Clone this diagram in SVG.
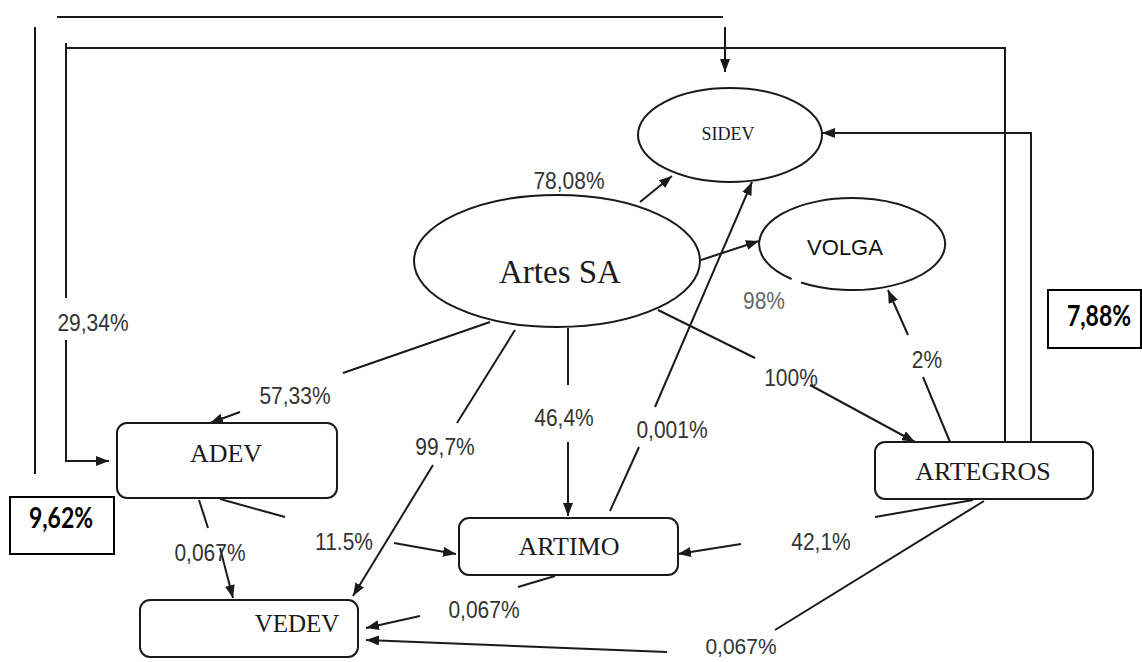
<svg xmlns="http://www.w3.org/2000/svg" width="1142" height="662" viewBox="0 0 1142 662">
<defs>
<style>
.ln{fill:none;stroke:#1a1a1a;stroke-width:2}
.ar{fill:none;stroke:#1a1a1a;stroke-width:2;marker-end:url(#ah)}
.nd{fill:#fff;stroke:#1a1a1a;stroke-width:2}
.ser{font-family:"Liberation Serif","Times New Roman",serif;fill:#1a1a1a;text-anchor:middle}
.lbl{font-family:"Liberation Sans",Arial,sans-serif;font-size:21px;fill:#333;text-anchor:middle}
.bx{font-family:Lato,"Liberation Sans",sans-serif;font-weight:bold;font-size:23px;fill:#000;text-anchor:middle}
</style>
<marker id="ah" viewBox="0 0 13 10" refX="13" refY="5" markerWidth="13" markerHeight="10" markerUnits="userSpaceOnUse" orient="auto">
<path d="M0,0 L13,5 L0,10 z" fill="#1a1a1a"/>
</marker>
</defs>
<rect width="1142" height="662" fill="#fff"/>

<g id="connectors">
<path class="ln" d="M57,17 H723"/>
<path class="ar" d="M725,27 V72"/>
<path class="ln" d="M35,27 V474"/>
<path class="ln" d="M65,48 H1005 V442"/>
<path class="ln" d="M66,43 V298"/>
<path class="ar" d="M66,340 V461 H109"/>
<path class="ar" d="M1031,442 V133 H822"/>
<path class="ar" d="M640,202 L672,176"/>
<path class="ar" d="M701,260 L759,241"/>
<path class="ln" d="M658,310 L755,358"/>
<path class="ar" d="M810,385 L915,442"/>
<path class="ln" d="M568,328 V385"/>
<path class="ar" d="M568,442 V516"/>
<path class="ln" d="M515,330 L457,423"/>
<path class="ar" d="M433,465 L353,596"/>
<path class="ln" d="M490,322 L343,373"/>
<path class="ar" d="M240,412 L210,423"/>
<path class="ln" d="M610,511 L639,447"/>
<path class="ar" d="M655,407 L752,182"/>
<path class="ln" d="M950,442 L923,377"/>
<path class="ar" d="M908,335 L888,290"/>
<path class="ln" d="M199,500 L208,528"/>
<path class="ar" d="M220,548 L233,598"/>
<path class="ln" d="M220,499 L285,517"/>
<path class="ar" d="M394,543 L456,554"/>
<path class="ln" d="M973,500 L875,517"/>
<path class="ar" d="M741,544 L678,554"/>
<path class="ln" d="M555,576 L518,587"/>
<path class="ar" d="M420,616 L366,628"/>
<path class="ln" d="M984,501 L775,630"/>
<path class="ar" d="M667,652 L366,640"/>
</g>

<g id="labels">
<text class="lbl" transform="translate(569,189) scale(1,1.12)">78,08%</text>
<text class="lbl" transform="translate(764,309) scale(1,1.12)" style="fill:#666">98%</text>
<text class="lbl" transform="translate(93,331) scale(1,1.12)">29,34%</text>
<text class="lbl" transform="translate(295,404) scale(1,1.12)">57,33%</text>
<text class="lbl" transform="translate(791,386) scale(1,1.12)">100%</text>
<text class="lbl" transform="translate(927,368) scale(1,1.12)">2%</text>
<text class="lbl" transform="translate(564,426) scale(1,1.12)">46,4%</text>
<text class="lbl" transform="translate(672,438) scale(1,1.12)">0,001%</text>
<text class="lbl" transform="translate(445,455) scale(1,1.12)">99,7%</text>
<text class="lbl" transform="translate(210,561) scale(1,1.12)">0,067%</text>
<text class="lbl" transform="translate(344,550) scale(1,1.12)">11.5%</text>
<text class="lbl" transform="translate(821,550) scale(1,1.12)">42,1%</text>
<text class="lbl" transform="translate(484,618) scale(1,1.12)">0,067%</text>
<text class="lbl" transform="translate(741,654) scale(1,1.08)">0,067%</text>
</g>

<g id="SIDEV">
<ellipse class="nd" cx="730" cy="135" rx="92" ry="47"/>
<text class="ser" x="728" y="140" font-size="18">SIDEV</text>
</g>

<g id="VOLGA">
<path class="nd" d="M791.6,279 A93,46 0 1 1 801,282.5"/>
<text x="845" y="255" font-family="Liberation Sans, Arial, sans-serif" font-size="22" text-anchor="middle" fill="#111">VOLGA</text>
</g>

<g id="ArtesSA">
<ellipse class="nd" cx="557" cy="261" rx="143" ry="66"/>
<text class="ser" x="560" y="283" font-size="33">Artes SA</text>
</g>

<g id="ADEV">
<rect class="nd" x="117" y="423" width="220" height="75" rx="10"/>
<text class="ser" x="226" y="462" font-size="26">ADEV</text>
</g>

<g id="ARTIMO">
<rect class="nd" x="459" y="518" width="219" height="57" rx="10"/>
<text class="ser" x="569" y="555" font-size="26">ARTIMO</text>
</g>

<g id="VEDEV">
<rect class="nd" x="140" y="600" width="218" height="57" rx="10"/>
<text class="ser" x="297" y="632" font-size="25">VEDEV</text>
</g>

<g id="ARTEGROS">
<rect class="nd" x="875" y="442" width="218" height="57" rx="10"/>
<text class="ser" x="983" y="480" font-size="26">ARTEGROS</text>
</g>

<g id="box962">
<rect x="10" y="497" width="104" height="57" fill="#fff" stroke="#000" stroke-width="2"/>
<text class="bx" transform="translate(61,528) scale(1,1.2)">9,62%</text>
</g>

<g id="box788">
<rect x="1048" y="290" width="93" height="58" fill="#fff" stroke="#000" stroke-width="2"/>
<text class="bx" transform="translate(1099,326) scale(1,1.2)">7,88%</text>
</g>
</svg>
